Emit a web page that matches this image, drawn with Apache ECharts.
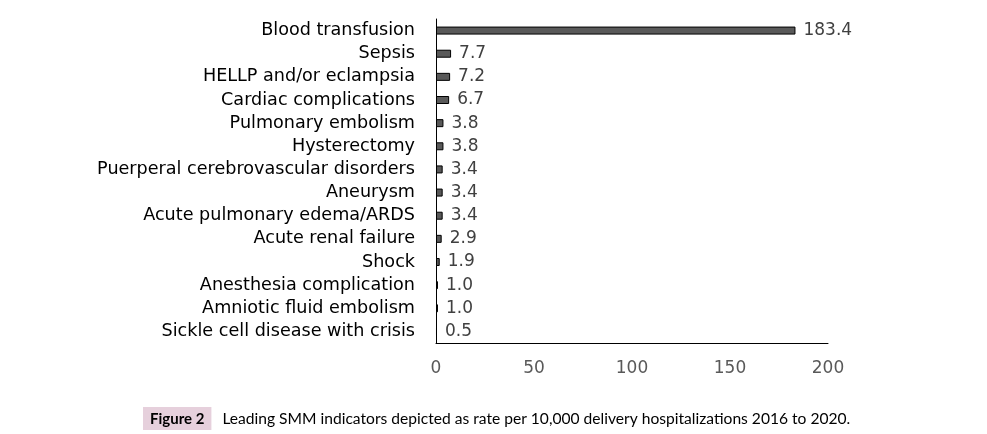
<!DOCTYPE html>
<html><head><meta charset="utf-8">
<script src="https://cdn.jsdelivr.net/npm/echarts@6/dist/echarts.min.js"></script>
<style>html,body{margin:0;padding:0;background:#fff}#c{width:987px;height:434px}</style>
</head><body><div id="c"></div>
<script>
const categories = ["Blood transfusion","Sepsis","HELLP and/or eclampsia","Cardiac complications","Pulmonary embolism","Hysterectomy","Puerperal cerebrovascular disorders","Aneurysm","Acute pulmonary edema/ARDS","Acute renal failure","Shock","Anesthesia complication","Amniotic fluid embolism","Sickle cell disease with crisis"];
const values = [183.4,7.7,7.2,6.7,3.8,3.8,3.4,3.4,3.4,2.9,1.9,1.0,1.0,0.5];
const xTicks = [0,50,100,150,200];
const captionLabel = "Figure 2";
const captionText = "Leading SMM indicators depicted as rate per 10,000 delivery hospitalizations 2016 to 2020.";

const chart = echarts.init(document.getElementById('c'));
chart.setOption({
  animation:false,
  grid:{left:436,top:19,width:392,height:324,containLabel:false},
  xAxis:{type:'value',min:xTicks[0],max:xTicks[xTicks.length-1],interval:50,
    axisLine:{show:true,lineStyle:{color:'#000',width:1}},
    axisTick:{show:false},splitLine:{show:false},
    axisLabel:{color:'#595959',fontFamily:'DejaVu Sans',fontSize:17,margin:17}},
  yAxis:{type:'category',data:categories,inverse:true,
    axisLine:{show:true,lineStyle:{color:'#000',width:1}},
    axisTick:{show:false},
    axisLabel:{interval:0,color:'#000',fontFamily:'DejaVu Sans',fontSize:17.6,margin:21}},
  series:[{type:'bar',data:values,barWidth:8,
    itemStyle:{color:'#595959',borderColor:'#000',borderWidth:1},
    label:{show:true,position:'right',distance:8,color:'#404040',fontFamily:'DejaVu Sans',fontSize:17,
      formatter:p=>p.value.toFixed(1)}}],
  title:{left:138,top:402,text:'{a|'+captionLabel+'}{b|'+captionText+'}',
    textStyle:{fontWeight:'normal',rich:{
      a:{fontFamily:'Lato',fontWeight:'bold',fontSize:15,color:'#000',backgroundColor:'#e6d0dc',padding:[4,7,3,7],height:16},
      b:{fontFamily:'Lato',fontWeight:'normal',fontSize:15.6,color:'#000',padding:[0,0,0,11]}}}}
});
</script></body></html>
